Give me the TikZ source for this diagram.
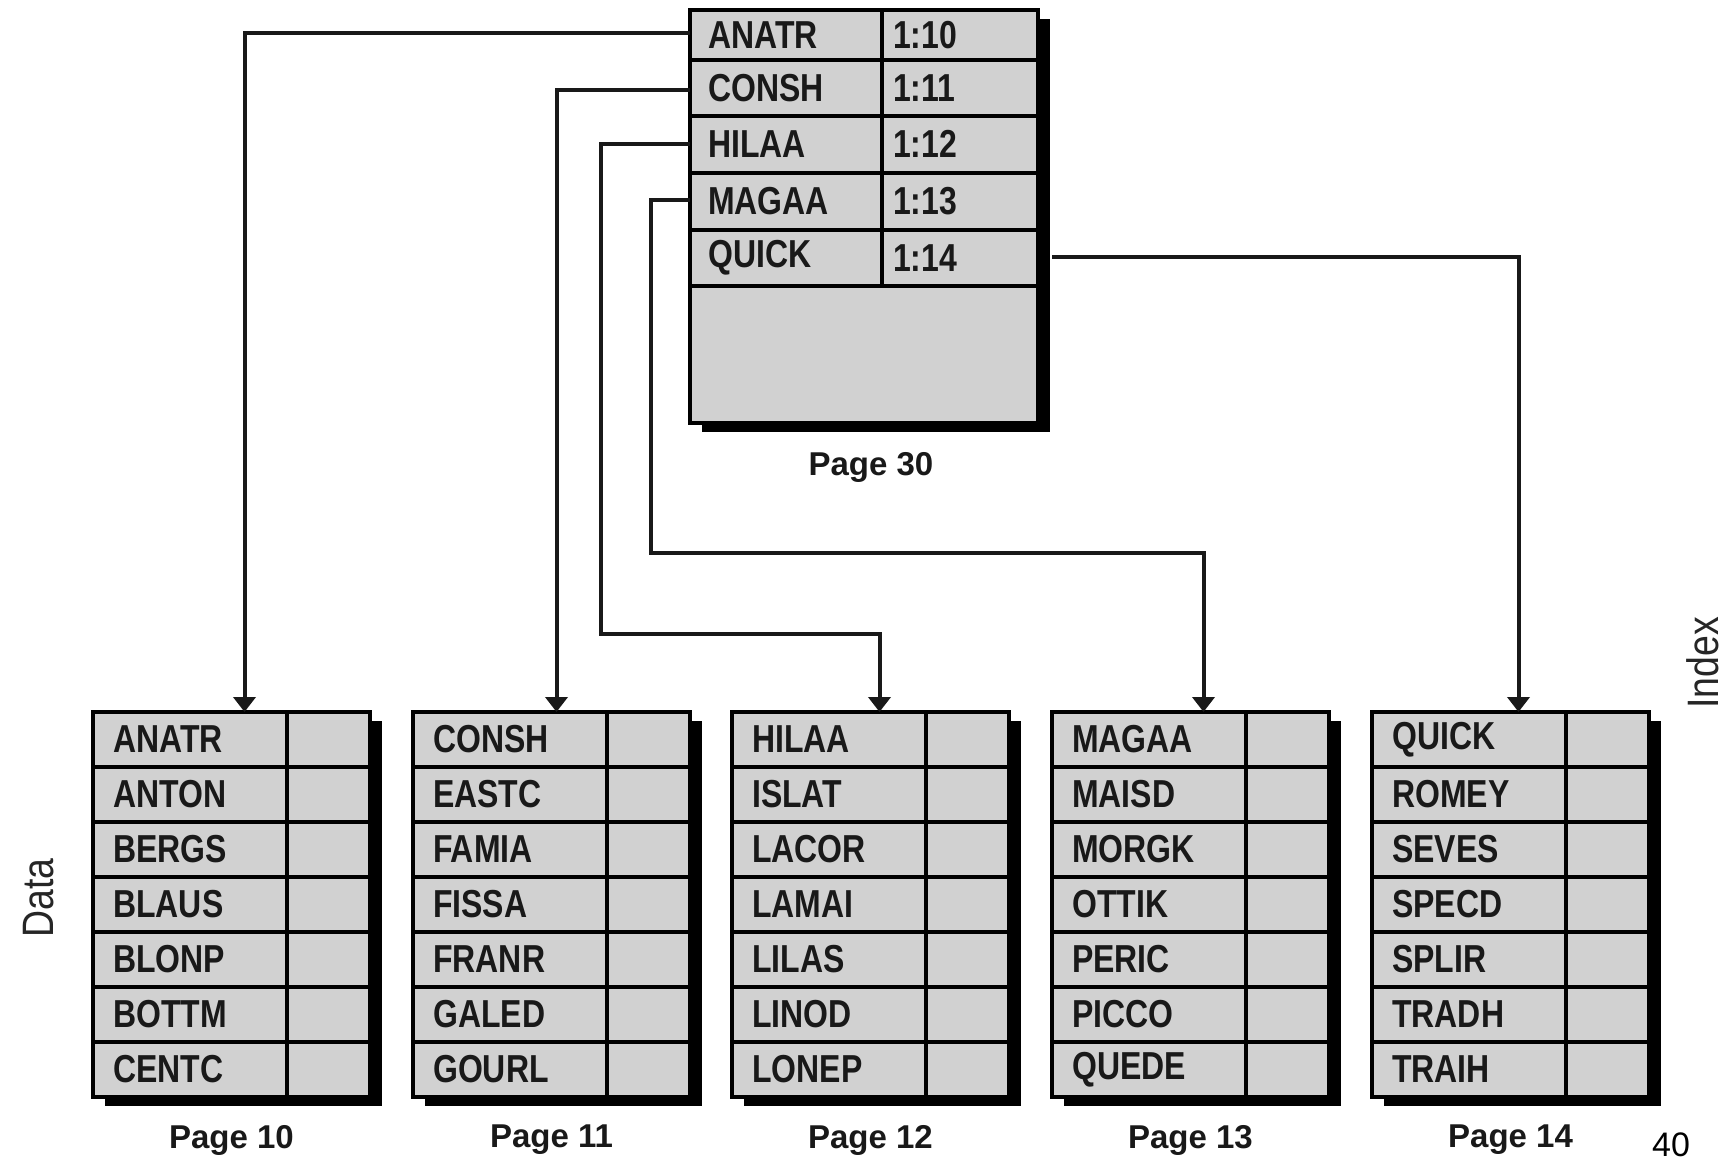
\documentclass[tikz,border=0pt]{standalone}
\usepackage{fontspec}
\usetikzlibrary{calc,arrows.meta,shadows}
\newfontfamily\cellfamily[FakeStretch=0.82]{Liberation Sans}
\newfontfamily\sidefamily[FakeStretch=0.85]{Liberation Sans}
\newfontfamily\pagefamily{Liberation Sans}
\definecolor{cellgray}{gray}{0.82}
\newcommand\datapage[4]{%
  \node[pagebox,minimum width=277pt,minimum height=385pt] (#1) at (#2,712) {};
  \foreach \k in {1,...,6} \draw[rowline] ($(#1.north west)+(0,\k*55)$) -- ++(277,0);
  \draw[rowline] ($(#1.north west)+(194,0)$) -- ++(0,385);
  \foreach \t [count=\k] in {#4} \node[celltext] (#1r\k) at ($(#1.north west)+(20,\k*55-27.5)$) {\t};
  \node[pagelabel] (#1lbl) at ($(#1.south)+(0,43)$) {#3};
}
\begin{document}
\begin{tikzpicture}[x=1pt,y=-1pt,
  pagebox/.style={draw=black,line width=4pt,fill=cellgray,inner sep=0pt,outer sep=0pt,anchor=north west,
    drop shadow={shadow xshift=12pt,shadow yshift=-9pt,fill=black,opacity=1}},
  rowline/.style={draw=black,line width=3.5pt},
  idxline/.style={draw=black,line width=4.5pt},
  celltext/.style={font=\cellfamily\bfseries\fontsize{39}{39}\selectfont,anchor=west,inner sep=0pt,text=black!90},
  pagelabel/.style={font=\pagefamily\bfseries\fontsize{33}{33}\selectfont,inner sep=0pt,text=black!90},
  sidelabel/.style={font=\sidefamily\fontsize{44}{44}\selectfont,inner sep=0pt,rotate=90,text=black!85},
  link/.style={draw=black!90,line width=4pt,-{Triangle[length=15pt,width=22pt]}}
]
\useasboundingbox (0,0) rectangle (1735,1160);
\fill[white] (0,0) rectangle (1735,1160);

% index page
\node[pagebox,minimum width=348pt,minimum height=413pt] (idx) at (690,10) {};
\foreach \yy in {50,106,163,220,276} \draw[idxline] ($(idx.north west)+(0,\yy)$) -- ++(348,0);
\draw[idxline] ($(idx.north west)+(192,0)$) -- ++(0,276);
\foreach \t/\v/\yy [count=\k] in {ANATR/1:10/25,CONSH/1:11/78,HILAA/1:12/134,MAGAA/1:13/191,QUICK/1:14/248}{
  \node[celltext] (ik\k) at ($(idx.north west)+(18,\yy)$) {\t};
  \node[celltext] (iv\k) at ($(idx.north west)+(203,\yy)$) {\v};
}
\node[pagelabel] (idxlbl) at ($(idx.south)+(7,44)$) {Page 30};

% data pages
\datapage{p10}{93}{Page 10}{ANATR,ANTON,BERGS,BLAUS,BLONP,BOTTM,CENTC}
\datapage{p11}{413}{Page 11}{CONSH,EASTC,FAMIA,FISSA,FRANR,GALED,GOURL}
\datapage{p12}{732}{Page 12}{HILAA,ISLAT,LACOR,LAMAI,LILAS,LINOD,LONEP}
\datapage{p13}{1052}{Page 13}{MAGAA,MAISD,MORGK,OTTIK,PERIC,PICCO,QUEDE}
\datapage{p14}{1372}{Page 14}{QUICK,ROMEY,SEVES,SPECD,SPLIR,TRADH,TRAIH}

% connector ends
\coordinate (a1) at ($(idx.north west)+(0,23)$);
\coordinate (a2) at ($(idx.north west)+(0,80)$);
\coordinate (a3) at ($(idx.north west)+(0,134)$);
\coordinate (a4) at ($(idx.north west)+(0,190)$);
\coordinate (a5) at ($(idx.north east)+(14,247)$);
\coordinate (t10) at ($(p10.north)+(13,0)$);
\coordinate (t11) at ($(p11.north)+(5,0)$);
\coordinate (t12) at ($(p12.north)+(9,0)$);
\coordinate (t13) at ($(p13.north)+(13,0)$);
\coordinate (t14) at ($(p14.north)+(8,0)$);

\draw[link] (a1) -| (t10);
\draw[link] (a2) -| (t11);
\draw[link] (a3) -| (601,634) -| (t12);
\draw[link] (a4) -| (651,553) -| (t13);
\draw[link] (a5) -| (t14);

% side labels
\node[sidelabel] (lindex) at (1703,663) {Index};
\node[sidelabel] (ldata) at (39,898) {Data};
\node[font=\pagefamily\fontsize{34}{34}\selectfont,anchor=base,inner sep=0pt] (pgnum) at (1671,1156) {40};
\end{tikzpicture}
\end{document}
